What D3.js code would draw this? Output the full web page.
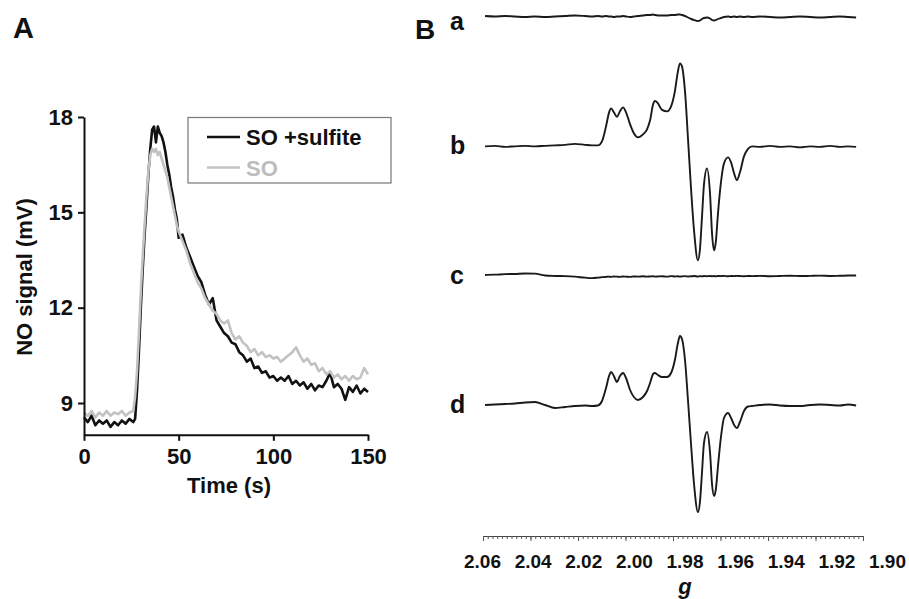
<!DOCTYPE html>
<html>
<head>
<meta charset="utf-8">
<script src="https://cdn.jsdelivr.net/npm/d3@7/dist/d3.min.js"></script>
<style>
  html, body { margin: 0; padding: 0; background: #fff; }
  svg { display: block; font-family: "Liberation Sans", Arial, Helvetica, sans-serif; }
</style>
</head>
<body>
<svg id="chart" width="909" height="599"></svg>
<script>
// ---------- Panel A data ----------
const timeS = [0,2,4,6,8,10,12,14,16,18,20,22,24,26,
  27,28,29,30,31,32,33,34,35,36,37,38,39,40,41,42,43,44,45,46,47,48,49,50,
  52,54,56,58,60,62,64,66,68,70,72,74,76,78,80,82,84,86,88,90,92,94,96,98,100,
  102,104,106,108,110,112,114,116,118,120,122,124,126,128,130,132,134,136,138,140,142,144,146,148,150];
const soSulfite = [8.55,8.4,8.6,8.3,8.45,8.35,8.45,8.25,8.4,8.3,8.45,8.35,8.5,8.4,
  8.5,9.4,10.6,12.0,13.2,14.3,15.2,16.2,17.0,17.6,17.7,17.2,17.7,17.5,17.4,17.2,16.9,16.5,16.2,15.8,15.5,15.1,14.8,14.2,
  14.3,13.9,13.6,13.3,13.0,12.8,12.4,12.1,12.3,11.6,11.4,11.2,11.1,10.9,10.85,10.6,10.5,10.3,10.4,10.1,10.15,9.95,10.0,9.8,9.85,
  9.7,9.8,9.7,9.85,9.6,9.7,9.55,9.65,9.45,9.6,9.4,9.55,9.5,9.7,9.95,9.5,9.6,9.45,9.1,9.5,9.35,9.55,9.3,9.45,9.35];
const soOnly = [8.7,8.6,8.75,8.55,8.7,8.6,8.75,8.6,8.7,8.65,8.75,8.6,8.7,8.75,
  9.2,10.0,11.2,12.5,13.6,14.6,15.5,16.3,16.8,17.0,16.9,17.0,16.8,16.9,16.7,16.5,16.3,16.1,15.8,15.5,15.2,14.9,14.6,14.4,
  14.1,13.8,13.4,13.1,12.8,12.6,12.3,12.1,11.9,11.8,11.6,11.5,11.6,11.2,11.0,11.1,10.9,10.8,10.6,10.7,10.5,10.6,10.45,10.5,10.4,
  10.45,10.3,10.4,10.5,10.6,10.75,10.5,10.3,10.4,10.2,10.25,10.0,10.1,9.9,10.0,9.8,9.9,9.75,9.85,9.7,9.85,9.75,9.8,10.1,9.9];
const timeTicks = [0, 50, 100, 150];
const signalTicks = [9, 12, 15, 18];
const seriesNames = ["SO +sulfite", "SO"];

// ---------- Panel B data (EPR spectra, intensity in arbitrary units) ----------
const gValues = [2.0588,2.0549,2.0509,2.0470,2.0430,2.0391,2.0351,2.0312,2.0272,2.0233,2.0193,2.0165,2.0142,
  2.0126,2.0110,2.0098,2.0090,2.0079,2.0067,2.0055,2.0043,2.0031,2.0015,
  2.0000,1.9984,1.9964,1.9948,1.9936,1.9924,1.9917,1.9905,1.9889,1.9869,
  1.9853,1.9838,1.9826,1.9818,1.9810,1.9798,1.9786,1.9774,1.9762,1.9747,
  1.9739,1.9731,1.9723,1.9711,1.9699,1.9691,1.9683,1.9676,1.9668,1.9656,
  1.9644,1.9628,1.9616,1.9604,1.9593,1.9581,1.9565,1.9549,
  1.9533,1.9502,1.9462,1.9423,1.9383,1.9344,1.9304,1.9265,1.9225,1.9186,1.9154,1.9122];
const traceA = [0.01,0.005,0.01,0.005,0,0.005,0,0.005,0.01,0.015,0.01,0.005,0.01,
  0.005,0.01,0.005,0.005,0,0.005,0.005,0.01,0.005,0,
  0.005,0.01,0.015,0.02,0.02,0.025,0.02,0.015,0.015,0.015,
  0.02,0.02,0.025,0.025,0.02,0.01,-0.005,-0.02,-0.03,-0.04,
  -0.035,-0.02,-0.01,-0.005,-0.015,-0.03,-0.035,-0.03,-0.02,-0.01,
  0,0.005,0,0.005,0,0.005,0,0.005,
  0,0.005,0,-0.005,0,0.005,0,-0.005,0,0.005,0,-0.005];
const traceB = [0,0.005,-0.005,0,0.005,0,0.005,0.01,0.015,0.025,0.015,0.01,0.01,
  0.05,0.20,0.34,0.38,0.34,0.295,0.35,0.39,0.34,0.22,
  0.13,0.09,0.12,0.17,0.26,0.42,0.455,0.43,0.365,0.35,
  0.40,0.55,0.75,0.83,0.80,0.55,0.07,-0.43,-0.85,-1.14,
  -1.03,-0.71,-0.38,-0.22,-0.48,-0.88,-1.04,-0.95,-0.68,-0.36,
  -0.17,-0.11,-0.16,-0.27,-0.34,-0.26,-0.10,-0.025,
  0,-0.005,0.005,-0.005,0,-0.01,0,-0.005,0.005,-0.005,0,-0.005];
const traceC = [0.007,0.01,0.015,0.017,0.022,0.02,0.002,-0.003,-0.005,-0.01,-0.02,-0.025,-0.02,
  -0.015,-0.012,-0.01,-0.012,-0.008,-0.01,-0.012,-0.008,-0.01,-0.012,
  -0.008,-0.01,-0.006,-0.01,-0.008,-0.006,-0.01,-0.008,-0.006,-0.01,
  -0.005,-0.008,-0.006,-0.01,-0.007,-0.005,-0.008,-0.006,-0.004,-0.008,
  -0.005,-0.007,-0.004,-0.006,-0.003,-0.006,-0.004,-0.007,-0.003,-0.005,
  -0.002,-0.006,-0.003,-0.005,-0.002,-0.004,-0.006,-0.003,
  -0.005,-0.002,-0.006,-0.003,-0.001,-0.004,-0.002,0,-0.003,-0.001,0.001,0.002];
const traceD = [0,0.005,0.01,0.015,0.025,0.03,0,-0.03,-0.02,-0.01,-0.005,-0.01,-0.005,
  0.04,0.17,0.29,0.33,0.29,0.23,0.29,0.32,0.27,0.15,
  0.08,0.05,0.08,0.14,0.22,0.31,0.32,0.30,0.28,0.28,
  0.32,0.45,0.62,0.69,0.66,0.45,0.04,-0.40,-0.80,-1.07,
  -0.97,-0.68,-0.38,-0.27,-0.48,-0.80,-0.91,-0.84,-0.62,-0.32,
  -0.13,-0.08,-0.13,-0.20,-0.23,-0.17,-0.06,-0.015,
  -0.01,0,0.005,-0.005,-0.01,-0.01,0,0.005,0,-0.005,0.005,-0.005];
const traceKeys = ["a", "b", "c", "d"];
const gTicks = [2.06, 2.04, 2.02, 2.00, 1.98, 1.96, 1.94, 1.92, 1.90];

// ---------- drawing ----------
const svg = d3.select("#chart");
const FONT = '"Liberation Sans", Arial, Helvetica, sans-serif';

// Panel A
const xA = d3.scaleLinear().domain([0, 150]).range([84, 368]);
const yA = d3.scaleLinear().domain([8, 18]).range([434.8, 117]);

const gA = svg.append("g");
const line = d3.line().x(d => xA(d[0])).y(d => yA(d[1]));

gA.append("path")
  .datum(timeS.map((t, i) => [t, soSulfite[i]]))
  .attr("d", line).attr("fill", "none").attr("stroke", "#111")
  .attr("stroke-width", 2.6).attr("stroke-linejoin", "round");
gA.append("path")
  .datum(timeS.map((t, i) => [t, soOnly[i]]))
  .attr("d", line).attr("fill", "none").attr("stroke", "#c2c2c2")
  .attr("stroke-width", 2.6).attr("stroke-linejoin", "round");

const yAxisA = gA.append("g").attr("transform", "translate(84,0)")
  .call(d3.axisLeft(yA).tickValues(signalTicks).tickSize(6).tickSizeOuter(0).tickPadding(5));
const xAxisA = gA.append("g").attr("transform", "translate(0,434.8)")
  .call(d3.axisBottom(xA).tickValues(timeTicks).tickSize(6).tickSizeOuter(0).tickPadding(8));
[yAxisA, xAxisA].forEach(ax => {
  ax.select(".domain").attr("stroke", "#111").attr("stroke-width", 2);
  ax.selectAll(".tick line").attr("stroke", "#111").attr("stroke-width", 2);
  ax.selectAll(".tick text").attr("fill", "#111")
    .style("font-family", FONT).style("font-size", "22px").style("font-weight", "bold");
});

gA.append("text").attr("transform", "translate(32,277) rotate(-90)")
  .attr("text-anchor", "middle").style("font-size", "22px").style("font-weight", "bold")
  .attr("fill", "#111").text("NO signal (mV)");
gA.append("text").attr("x", 229).attr("y", 493).attr("text-anchor", "middle")
  .style("font-size", "22px").style("font-weight", "bold").attr("fill", "#111").text("Time (s)");

// legend
const leg = gA.append("g");
leg.append("rect").attr("x", 188).attr("y", 117.5).attr("width", 203).attr("height", 65.5)
  .attr("fill", "#fff").attr("stroke", "#777").attr("stroke-width", 1.2);
const legColors = ["#111", "#c2c2c2"];
seriesNames.forEach((name, i) => {
  const yy = 137 + i * 30.5;
  leg.append("line").attr("x1", 207).attr("x2", 240).attr("y1", yy).attr("y2", yy)
    .attr("stroke", legColors[i]).attr("stroke-width", 2.6);
  leg.append("text").attr("x", 246).attr("y", yy + 8).style("font-size", "22px")
    .style("font-weight", "bold").attr("fill", i === 0 ? "#111" : "#bdbdbd").text(name);
});

svg.append("text").attr("x", 13).attr("y", 38).style("font-size", "29px")
  .style("font-weight", "bold").attr("fill", "#111").text("A");

// Panel B
svg.append("text").attr("x", 415).attr("y", 39).style("font-size", "28px")
  .style("font-weight", "bold").attr("fill", "#111").text("B");

const xB = d3.scaleLinear().domain([2.06, 1.90]).range([482, 887]);
const yTrace = d3.scalePoint().domain(traceKeys).range([17, 405]);
const amp = d3.scaleLinear().domain([0, 1]).range([0, -100]);
const traces = { a: traceA, b: traceB, c: traceC, d: traceD };

traceKeys.forEach(k => {
  const base = yTrace(k);
  const l = d3.line().curve(d3.curveMonotoneX)
    .x(d => xB(d[0])).y(d => base + amp(d[1]));
  svg.append("path").datum(gValues.map((g, i) => [g, traces[k][i]]))
    .attr("d", l).attr("fill", "none").attr("stroke", "#1a1a1a")
    .attr("stroke-width", 1.9).attr("stroke-linejoin", "round");
  svg.append("text").attr("x", 450).attr("y", Math.max(base + 8, 30))
    .style("font-size", "25px").style("font-weight", "bold").attr("fill", "#111").text(k);
});

// field ruler (unlabelled minor / major ticks)
const field = d3.scaleLinear().domain([0, 80]).range([483, 863]);
const ruler = svg.append("g").attr("transform", "translate(0,536)")
  .call(d3.axisBottom(field).tickValues(d3.range(0, 81)).tickSize(3).tickSizeOuter(0).tickFormat(""));
const rulerMajor = svg.append("g").attr("transform", "translate(0,536)")
  .call(d3.axisBottom(field).tickValues(d3.range(0, 81, 10)).tickSize(5).tickSizeOuter(0).tickFormat(""));
rulerMajor.select(".domain").remove();
[ruler, rulerMajor].forEach(r => {
  r.selectAll(".tick line").attr("stroke", "#555").attr("stroke-width", 1);
  r.select(".domain").attr("stroke", "#444").attr("stroke-width", 1.2);
});

// g labels
const gAxis = svg.append("g").attr("transform", "translate(0,551)")
  .call(d3.axisBottom(xB).tickValues(gTicks).tickSize(0).tickPadding(3).tickFormat(d3.format(".2f")));
gAxis.select(".domain").remove();
gAxis.selectAll(".tick text").attr("fill", "#111")
  .style("font-family", FONT).style("font-size", "19px").style("font-weight", "bold");

svg.append("text").attr("x", 685).attr("y", 594).attr("text-anchor", "middle")
  .style("font-size", "22px").style("font-weight", "bold").style("font-style", "italic")
  .attr("fill", "#111").text("g");
</script>
</body>
</html>
